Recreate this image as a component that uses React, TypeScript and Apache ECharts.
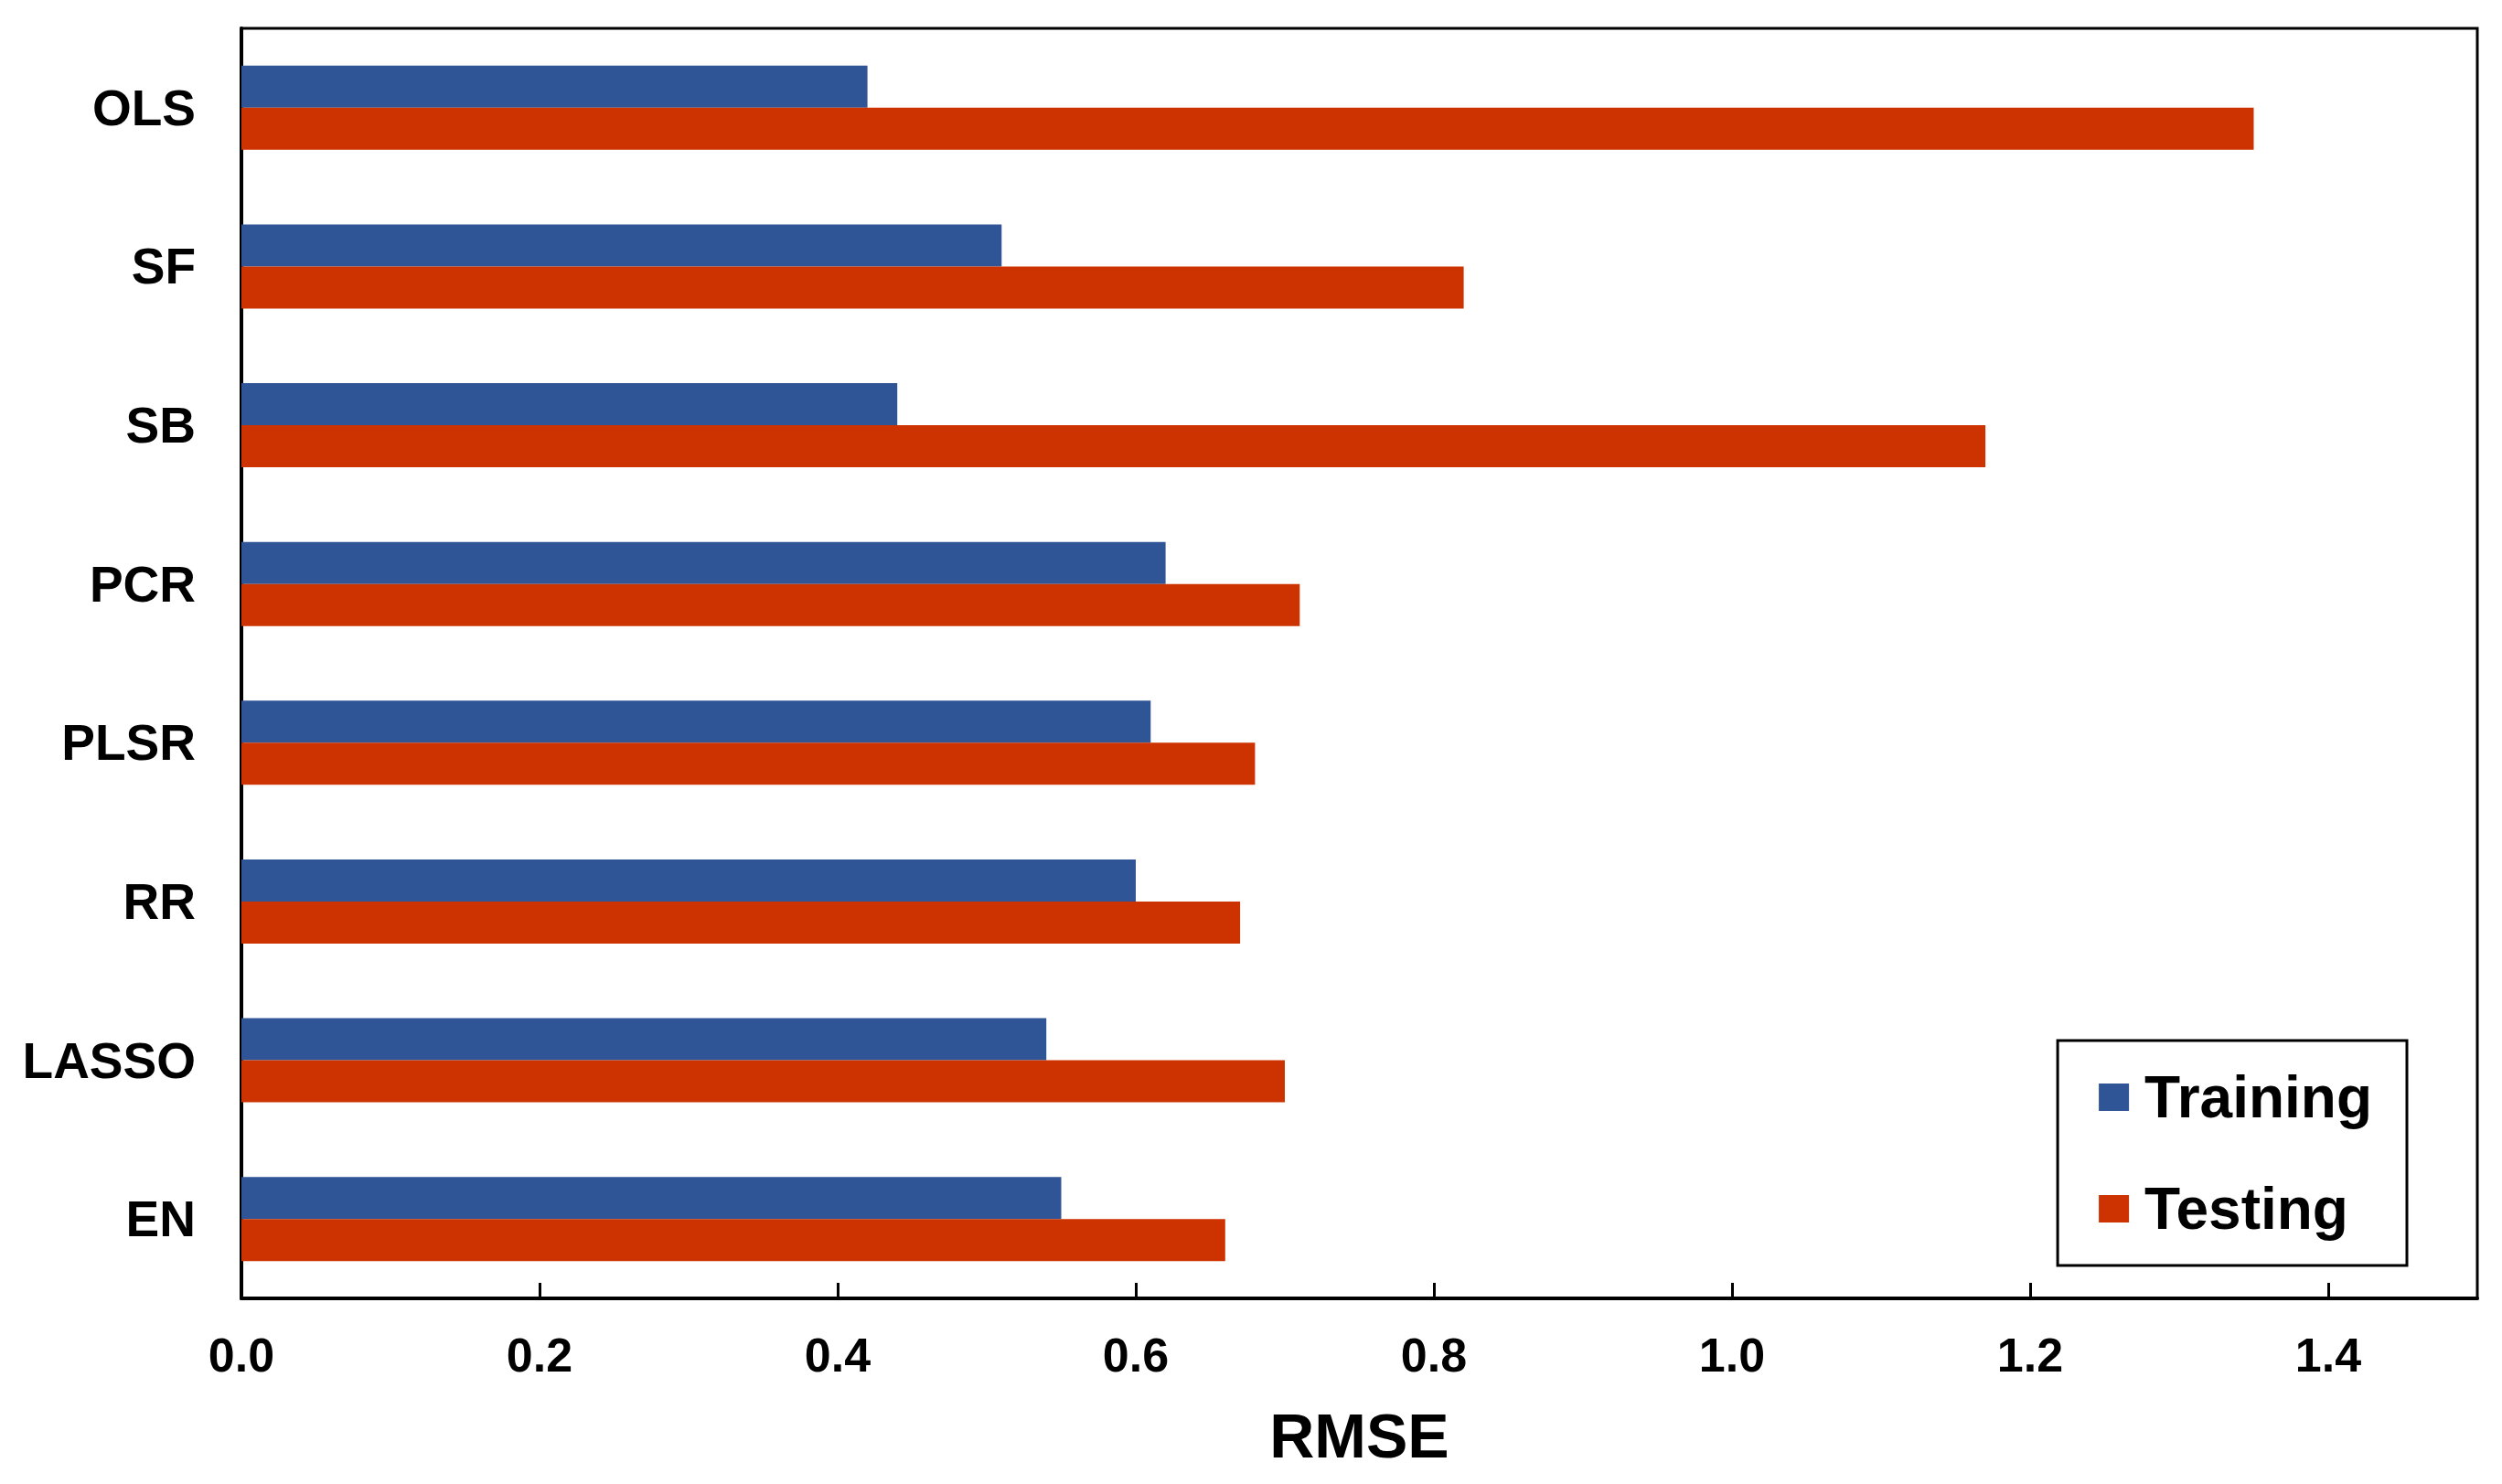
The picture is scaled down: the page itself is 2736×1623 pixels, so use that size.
import React, { useEffect, useRef } from "react";
import * as echarts from "echarts";

const categories = ["OLS", "SF", "SB", "PCR", "PLSR", "RR", "LASSO", "EN"];
const training = [0.42, 0.51, 0.44, 0.62, 0.61, 0.6, 0.54, 0.55];
const testing = [1.35, 0.82, 1.17, 0.71, 0.68, 0.67, 0.7, 0.66];
const seriesNames = ["Training", "Testing"];
const xTicks = { min: 0, max: 1.5, interval: 0.2 };

const FONT = "'Liberation Sans', Arial, sans-serif";

export default function App() {
  const ref = useRef<HTMLDivElement>(null);
  useEffect(() => {
    document.body.style.margin = "0";
    const chart = echarts.init(ref.current!, null, { renderer: "svg" });
    chart.setOption({
      animation: false,
      backgroundColor: "#ffffff",
      textStyle: { fontFamily: FONT },
      grid: {
        left: 264,
        right: 27,
        top: 31,
        bottom: 203,
        show: true,
        borderColor: "#000",
        borderWidth: 3,
        containLabel: false,
      },
      legend: {
        orient: "vertical",
        right: 2736 - 2632,
        top: 1138,
        data: seriesNames,
        icon: "rect",
        itemWidth: 33,
        itemHeight: 30,
        itemGap: 58,
        borderColor: "#000",
        borderWidth: 3,
        borderRadius: 0,
        padding: [30, 38, 30, 45],
        backgroundColor: "#fff",
        textStyle: {
          fontFamily: FONT,
          fontSize: 64,
          fontWeight: "bold",
          color: "#000",
          lineHeight: 64,
          padding: [0, 0, 0, 12],
        },
      },
      xAxis: {
        type: "value",
        min: xTicks.min,
        max: xTicks.max,
        interval: xTicks.interval,
        name: "RMSE",
        nameLocation: "middle",
        nameGap: 116,
        nameTextStyle: {
          fontFamily: FONT,
          fontSize: 68,
          fontWeight: "bold",
          color: "#000",
        },
        axisLine: { show: true, lineStyle: { color: "#000", width: 4 } },
        axisTick: {
          show: true,
          inside: true,
          length: 17,
          lineStyle: { color: "#000", width: 3 },
        },
        splitLine: { show: false },
        axisLabel: {
          fontFamily: FONT,
          fontSize: 52,
          fontWeight: "bold",
          color: "#000",
          margin: 36,
          showMaxLabel: false,
          formatter: (v: number) => v.toFixed(1),
        },
      },
      yAxis: {
        type: "category",
        data: categories,
        inverse: true,
        axisLine: { show: true, lineStyle: { color: "#000", width: 4 } },
        axisTick: { show: false },
        splitLine: { show: false },
        axisLabel: {
          fontFamily: FONT,
          fontSize: 55,
          fontWeight: "bold",
          color: "#000",
          margin: 50,
        },
      },
      series: [
        {
          name: seriesNames[0],
          type: "bar",
          data: training,
          barGap: "0%",
          barCategoryGap: "47%",
          itemStyle: { color: "#2F5597" },
        },
        {
          name: seriesNames[1],
          type: "bar",
          data: testing,
          barGap: "0%",
          barCategoryGap: "47%",
          itemStyle: { color: "#CC3300" },
        },
      ],
    });
    return () => chart.dispose();
  }, []);
  return (
    <div
      ref={ref}
      style={{ position: "absolute", left: 0, top: 0, width: 2736, height: 1623 }}
    />
  );
}
